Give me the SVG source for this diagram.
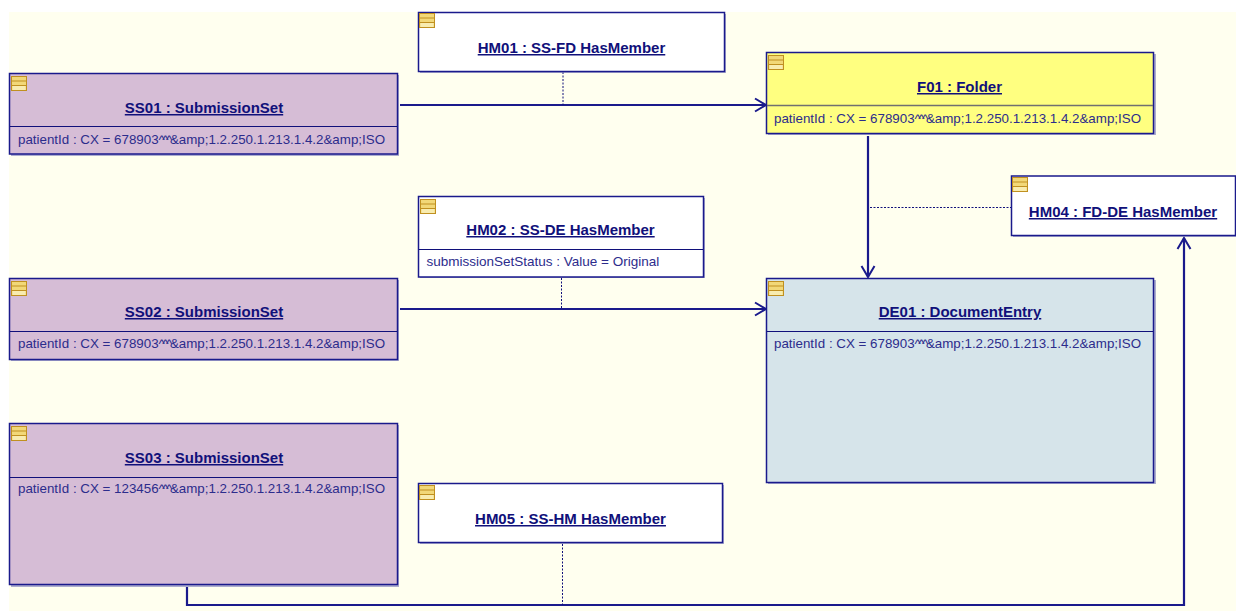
<svg xmlns="http://www.w3.org/2000/svg" width="1236" height="611" viewBox="0 0 1236 611">
<style>
.box{stroke:#1a1a8c;stroke-width:1.5}
.sep{stroke:#10107a;stroke-width:1}
.t{font:bold 15px "Liberation Sans",Arial,sans-serif;fill:#10107a;text-anchor:middle;text-decoration:underline}
.a{font:13.35px "Liberation Sans",Arial,sans-serif;fill:#2c2c8c}
.b{font-size:13.5px}
.k{letter-spacing:-2.5px}
.c{stroke:#1a1a8c;stroke-width:2.2;fill:none}
.d{stroke:#10107a;stroke-width:1;stroke-dasharray:2 1.5;fill:none}
.sh{fill:#8a8ac0;opacity:.7}
</style>
<defs>
<g id="ic">
<rect x=".5" y=".5" width="15" height="14" fill="#f2d878" stroke="#c09020"/>
<rect x="1.500" y="10" width="13" height="4" fill="#f8ecb0"/>
<path d="M1 5h14M1 9.500h14" stroke="#c09020" fill="none"/>
</g>
<marker id="ar" markerWidth="16" markerHeight="16" refX="13" refY="8" orient="auto" markerUnits="userSpaceOnUse"><path d="M2 1.500L13 8L2 14.500" fill="none" stroke="#1a1a8c" stroke-width="2"/></marker>
</defs>
<rect width="1236" height="611" fill="#fff"/>
<rect x="9" y="12" width="1227" height="599" fill="#ffffef"/>
<g id="connectors">
<path class="c" d="M400 105H766" marker-end="url(#ar)"/>
<path class="c" d="M400 309H766" marker-end="url(#ar)"/>
<path class="c" d="M868 136V277" marker-end="url(#ar)"/>
<path class="c" d="M187 587V605H1184V238" marker-end="url(#ar)"/>
<path class="d" d="M563 72V105"/>
<path class="d" d="M561.500 278V308"/>
<path class="d" d="M870 207.500H1012"/>
<path class="d" d="M562.500 544V605"/>
</g>
<g id="SS01"><rect class="sh" x="11" y="75" width="388" height="81"/><rect class="box" x="9.500" y="73.500" width="388" height="80.500" fill="#d6bdd6"/><line class="sep" x1="10" y1="126.500" x2="397" y2="126.500"/><use href="#ic" x="11" y="76"/><text class="t" x="204" y="113">SS01 : SubmissionSet</text><text class="a" x="18" y="144">patientId : CX = 678903<tspan class="k">^^^</tspan>&amp;amp;1.2.250.1.213.1.4.2&amp;amp;ISO</text></g>
<g id="HM01"><rect class="sh" x="420" y="14" width="306" height="59"/><rect class="box" x="418.500" y="12.500" width="306" height="59" fill="#fff"/><use href="#ic" x="419" y="13"/><text class="t" x="571.500" y="53">HM01 : SS-FD HasMember</text></g>
<g id="F01"><rect class="sh" x="768" y="54" width="388" height="81"/><rect class="box" x="766.500" y="52.500" width="387" height="81" fill="#ffff80"/><line x1="767" y1="105.500" x2="1153" y2="105.500" stroke="#707070" stroke-width="1.500"/><use href="#ic" x="768" y="55"/><text class="t" x="959.500" y="92">F01 : Folder</text><text class="a" x="774" y="123">patientId : CX = 678903<tspan class="k">^^^</tspan>&amp;amp;1.2.250.1.213.1.4.2&amp;amp;ISO</text></g>
<g id="HM04"><rect class="sh" x="1013" y="178" width="223" height="59"/><rect class="box" x="1011.500" y="176" width="224" height="59.500" fill="#fff"/><use href="#ic" x="1012" y="177"/><text class="t" x="1123" y="217">HM04 : FD-DE HasMember</text></g>
<g id="HM02"><rect class="sh" x="420" y="198" width="285" height="80"/><rect class="box" x="418.500" y="196.500" width="285" height="80.500" fill="#fff"/><line class="sep" x1="419" y1="249.500" x2="703" y2="249.500"/><use href="#ic" x="420" y="199"/><text class="t" x="560.500" y="235">HM02 : SS-DE HasMember</text><text class="a b" x="426.500" y="266">submissionSetStatus : Value = Original</text></g>
<g id="SS02"><rect class="sh" x="11" y="280" width="388" height="81"/><rect class="box" x="9.500" y="278.500" width="388" height="81" fill="#d6bdd6"/><line class="sep" x1="10" y1="331.500" x2="397" y2="331.500"/><use href="#ic" x="11" y="281"/><text class="t" x="204" y="317">SS02 : SubmissionSet</text><text class="a" x="18" y="348">patientId : CX = 678903<tspan class="k">^^^</tspan>&amp;amp;1.2.250.1.213.1.4.2&amp;amp;ISO</text></g>
<g id="DE01"><rect class="sh" x="768" y="280" width="388" height="204"/><rect class="box" x="766.500" y="278.500" width="387" height="204" fill="#d6e4ea"/><line class="sep" x1="767" y1="331.500" x2="1153" y2="331.500"/><use href="#ic" x="768" y="281"/><text class="t" x="960" y="317">DE01 : DocumentEntry</text><text class="a" x="774" y="348">patientId : CX = 678903<tspan class="k">^^^</tspan>&amp;amp;1.2.250.1.213.1.4.2&amp;amp;ISO</text></g>
<g id="SS03"><rect class="sh" x="11" y="425" width="388" height="162"/><rect class="box" x="9.500" y="423.500" width="388" height="161" fill="#d6bdd6"/><line class="sep" x1="10" y1="477.500" x2="397" y2="477.500"/><use href="#ic" x="11" y="426"/><text class="t" x="204" y="463">SS03 : SubmissionSet</text><text class="a" x="18" y="493">patientId : CX = 123456<tspan class="k">^^^</tspan>&amp;amp;1.2.250.1.213.1.4.2&amp;amp;ISO</text></g>
<g id="HM05"><rect class="sh" x="420" y="485" width="304" height="59"/><rect class="box" x="418.500" y="483.500" width="304" height="59" fill="#fff"/><use href="#ic" x="419" y="485"/><text class="t" x="570.500" y="524">HM05 : SS-HM HasMember</text></g>
</svg>
